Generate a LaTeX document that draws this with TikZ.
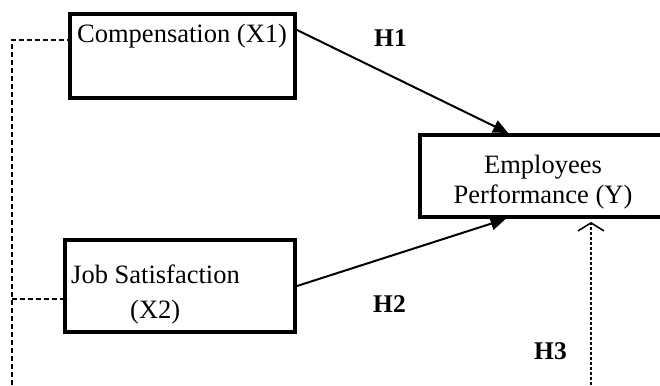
\documentclass[tikz,border=0pt]{standalone}
\usepackage{fontspec}
\setmainfont{Liberation Serif}
\usetikzlibrary{arrows.meta}
\begin{document}
\begin{tikzpicture}[x=1pt,y=-1pt,
  varbox/.style={draw,line width=4pt,minimum width=#1,inner sep=0pt},
  lbl/.style={anchor=base west,inner sep=0pt,font=\fontsize{26.5}{30}\selectfont},
  hyp/.style={anchor=base west,inner sep=0pt,font=\fontsize{25.5}{28}\selectfont\bfseries},
  path/.style={line width=2pt,-{Triangle[length=15pt,width=13pt]}},
  dashline/.style={line width=1.5pt,dash pattern=on 5pt off 3pt},
  dotline/.style={line width=2pt,dash pattern=on 3pt off 2pt,-{Straight Barb[length=8pt,width=26pt,line width=1.5pt]}}]
\clip (0,0) rectangle (660,385);
\fill[white] (0,0) rectangle (660,385);
% boxes
\node[varbox=225pt,minimum height=84pt] (comp) at (182.5,56) {};
\node[varbox=230pt,minimum height=92pt] (job) at (180,286) {};
\node[varbox=246pt,minimum height=82pt] (emp) at (543,176) {};
% texts
\node[lbl] (t1) at (77,42.5) {Compensation (X1)};
\node[lbl] (t2) at (71,283) {Job Satisfaction};
\node[lbl] (t3) at (130,318) {(X2)};
\node[lbl,anchor=base] (t4) at (543,173) {Employees};
\node[lbl,anchor=base] (t5) at (543,203) {Performance (Y)};
\node[hyp] (h1) at (374,47) {H1};
\node[hyp] (h2) at (373,312) {H2};
\node[hyp] (h3) at (534,359) {H3};
% coordinates
\coordinate (c1) at ([yshift=26pt]comp.east);
\coordinate (cw) at ([yshift=16pt]comp.west);
\coordinate (jw) at ([yshift=-13pt,xshift=5pt]job.west);
\coordinate (left) at (12,385);
\coordinate (h3s) at (591,385);
% connectors
\draw[path] (c1) -- (emp.129);
\draw[path] (job.east) -- (emp.229);
\draw[dotline] (h3s) -- ([yshift=-3pt]h3s |- emp.south);
\draw[dashline] (left) |- (cw);
\draw[dashline] (left |- jw) -- (jw);
\end{tikzpicture}
\end{document}
